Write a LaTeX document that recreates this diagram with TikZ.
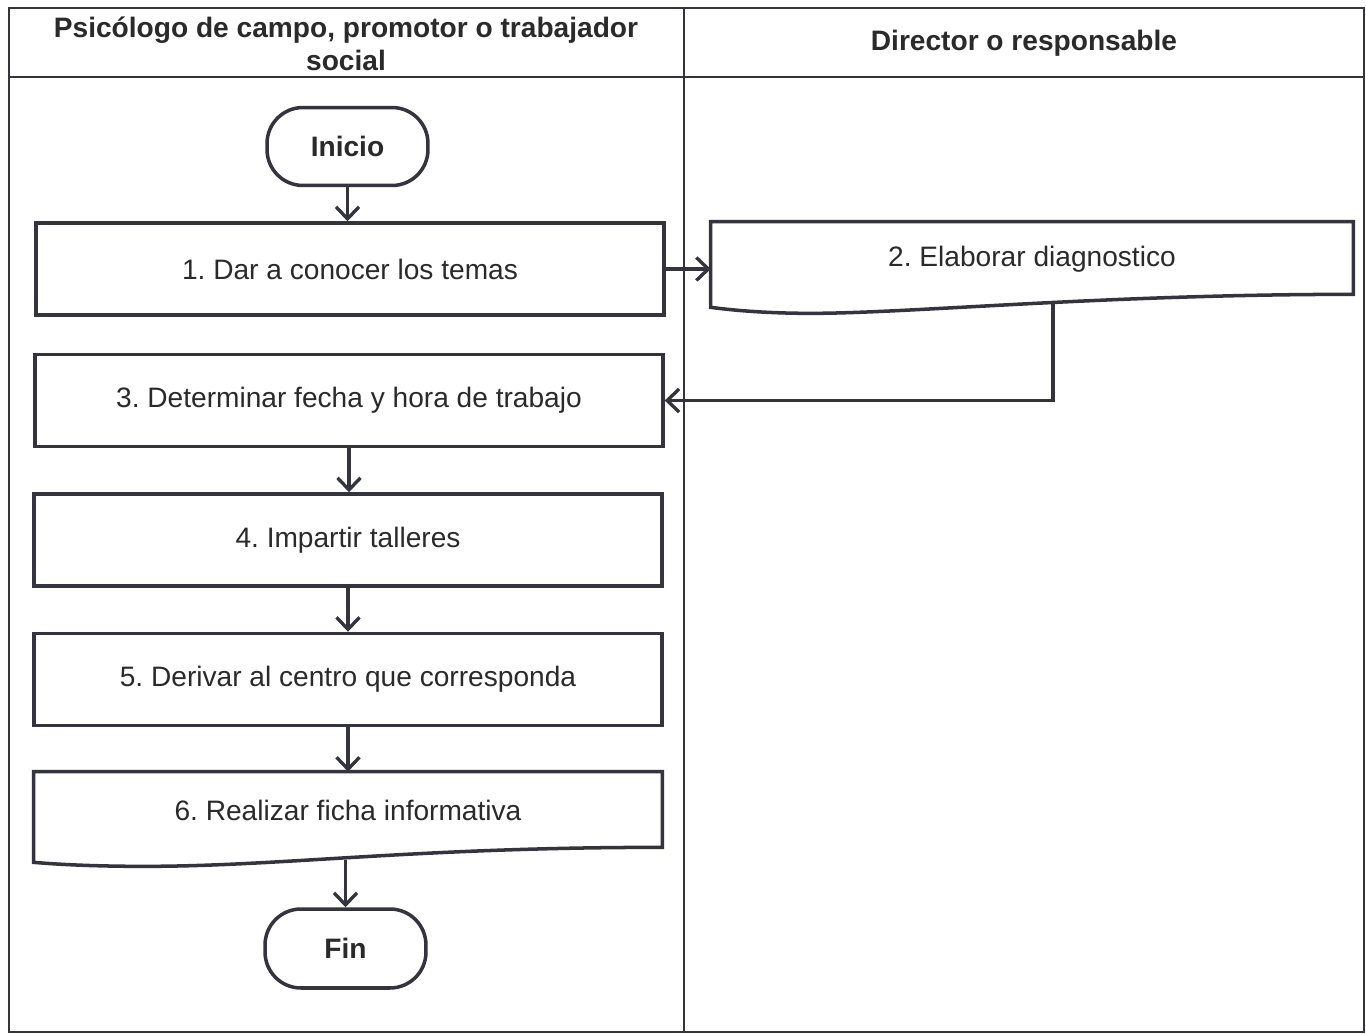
\documentclass[tikz,border=0pt]{standalone}
\usepackage{fontspec}
\setmainfont{Liberation Sans}
\usetikzlibrary{arrows.meta,calc}
\definecolor{ln}{HTML}{34343E}
\definecolor{tx}{HTML}{2A2A2A}
\frenchspacing
\begin{document}
\begin{tikzpicture}[x=0.02cm,y=-0.02cm,
  every node/.style={font=\fontsize{16}{19}\selectfont, text=tx},
  hdr/.style={font=\bfseries\fontsize{16}{19}\selectfont, align=center},
  proc/.style={draw=ln, line width=2pt, fill=white, minimum width=12.56cm, minimum height=1.84cm, inner sep=0pt},
  term/.style={draw=ln, line width=2pt, fill=white, rounded corners=0.72cm, minimum width=3.22cm, minimum height=1.56cm, inner sep=0pt, font=\bfseries\fontsize{16}{19}\selectfont},
  docn/.style={inner sep=0pt},
  docline/.style={draw=ln, line width=2pt, fill=white},
  arr/.style={draw=ln, line width=1.9pt, -{Straight Barb[length=2.4mm,width=4.6mm]}},
  frame/.style={draw=ln, line width=1.3pt}]
\useasboundingbox (0,0) rectangle (1366,1034);
\fill[white] (0,0) rectangle (1366,1034);
% table frame
\draw[frame] (9,8) rectangle (1364,1032);
\draw[frame] (684,8) -- (684,1032);
\draw[frame] (9,77) -- (1364,77);
\node[hdr] (h1) at (346,44) {Psicólogo de campo, promotor o trabajador\\social};
\node[hdr] (h2) at (1024,43) {Director o responsable};
% nodes
\node[term] (ini) at (347.5,146.5) {Inicio};
\node[proc] (b1) at (350,269) {1. Dar a conocer los temas};
\node[docn, minimum width=12.84cm, minimum height=1.48cm] (b2) at (1032,259) {};
\draw[docline] ($(b2.south west)+(0,11)$) -- (b2.north west) -- (b2.north east) -- ($(b2.south east)+(0,-2)$)
  .. controls ($(b2.south east)+(-250,-2)$) and ($(b2.south west)+(200,17)$) .. ($(b2.south west)+(100,17)$)
  .. controls ($(b2.south west)+(65,17)$) and ($(b2.south west)+(30,15)$) .. ($(b2.south west)+(0,11)$) -- cycle;
\node[docn] at (b2) {2. Elaborar diagnostico};
\node[proc] (b3) at (349,400.5) {3. Determinar fecha y hora de trabajo};
\node[proc] (b4) at (348,540) {4. Impartir talleres};
\node[proc] (b5) at (348,679.5) {5. Derivar al centro que corresponda};
\node[docn, minimum width=12.56cm, minimum height=1.52cm] (b6) at (348,810) {};
\draw[docline] ($(b6.south west)+(0,14)$) -- (b6.north west) -- (b6.north east) -- ($(b6.south east)+(0,-1)$)
  .. controls ($(b6.south east)+(-250,-1)$) and ($(b6.south west)+(250,18)$) .. ($(b6.south west)+(110,18)$)
  .. controls ($(b6.south west)+(75,18)$) and ($(b6.south west)+(35,17)$) .. ($(b6.south west)+(0,14)$) -- cycle;
\node[docn] at (b6) {6. Realizar ficha informativa};
\node[term, minimum height=1.58cm] (fin) at (345.5,948.5) {Fin};
% connectors
\draw[arr] (ini.south) -- (ini.south |- b1.north);
\draw[arr] (b1.east) -- (b1.east -| b2.west);
\draw[arr] ($(b2.south)+(21,8)$) |- (b3.east);
\draw[arr] (b3.south) -- (b3.south |- b4.north);
\draw[arr] (b4.south) -- (b4.south |- b5.north);
\draw[arr] (b5.south) -- (b5.south |- b6.north);
\draw[arr] (b6.south -| fin.north) ++(0,12) -- (fin.north);
\end{tikzpicture}
\end{document}
